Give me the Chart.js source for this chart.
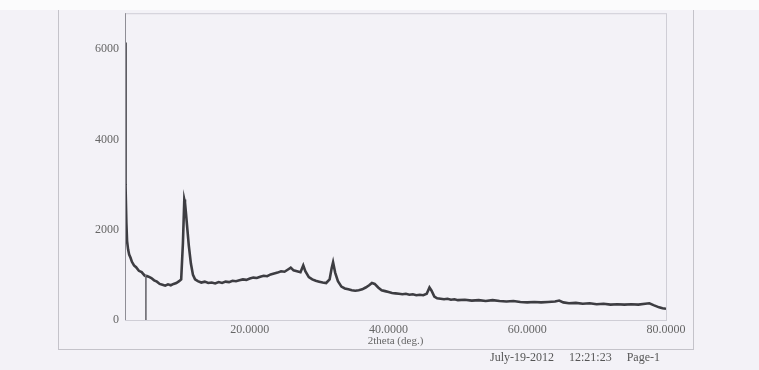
<!DOCTYPE html>
<html>
<head>
<meta charset="utf-8">
<script src="https://cdn.jsdelivr.net/npm/chart.js@4.4.1/dist/chart.umd.min.js"></script>
<style>
  html, body { margin: 0; padding: 0; background: #f3f2f7; }
  #wrap { position: relative; width: 759px; height: 370px; overflow: hidden; }
  #topstrip { position: absolute; left: 0; top: 0; width: 759px; height: 10px; background: #fbfbfc; }
  #frame { position: absolute; left: 58px; top: 10px; width: 634px; height: 339px; border: 1px solid #c4c3ca; border-top: none; }
  #footer { position: absolute; top: 350px; left: 490px; font: 12px "Liberation Serif", serif; color: #555; white-space: pre; }
  canvas { position: absolute; left: 0; top: 0; }
</style>
</head>
<body>
<div id="wrap">
  <div id="topstrip"></div>
  <div id="frame"></div>
  <canvas id="xrdChart" width="759" height="370"></canvas>
  <div id="footer">July-19-2012     12:21:23     Page-1</div>
</div>
<script>
const twoTheta = [
  2.0, 2.05, 2.1, 2.2, 2.3, 2.45, 2.6, 2.8, 3.0, 3.3, 3.6, 4.0, 4.4, 4.8, 4.95, 5.0, 5.05, 5.4, 5.8,
  6.2, 6.6, 7.0, 7.4, 7.8, 8.2, 8.6, 9.0, 9.4, 9.8, 10.1, 10.35, 10.55, 10.65, 10.8, 11.0, 11.2, 11.5,
  11.8, 12.1, 12.5, 13.0, 13.5, 14.0, 14.5, 15.0, 15.5, 16.0, 16.5, 17.0, 17.5, 18.0, 18.5, 19.0,
  19.5, 20.0, 20.5, 21.0, 21.5, 22.0, 22.5, 23.0, 23.5, 24.0, 24.5, 25.0, 25.5, 25.9, 26.3, 26.8,
  27.3, 27.7, 28.0, 28.5, 29.0, 29.5, 30.0, 30.5, 31.0, 31.5, 31.8, 32.0, 32.3, 32.7, 33.2, 33.7,
  34.2, 34.7, 35.2, 35.7, 36.2, 36.7, 37.2, 37.6, 38.0, 38.5, 39.0, 39.5, 40.0, 40.5, 41.0, 41.5,
  42.0, 42.5, 43.0, 43.5, 44.0, 44.5, 45.0, 45.5, 45.9, 46.2, 46.6, 47.0, 47.5, 48.0, 48.5, 49.0,
  49.5, 50.0, 51.0, 52.0, 53.0, 54.0, 55.0, 56.0, 57.0, 58.0, 59.0, 60.0, 61.0, 62.0, 63.0, 64.0,
  64.6, 65.2, 66.0, 67.0, 68.0, 69.0, 70.0, 71.0, 72.0, 73.0, 74.0, 75.0, 76.0, 77.0, 77.6, 78.2,
  79.0, 79.5, 80.0
];
const intensity = [
  6150, 4200, 3000, 2150, 1750, 1560, 1450, 1380, 1290, 1210, 1170, 1090, 1060, 990, 1010, 0, 980, 960, 930,
  880, 850, 800, 780, 760, 790, 770, 800, 820, 860, 900, 1700, 2670, 2600, 2350, 2000, 1650, 1250,
  1000, 900, 860, 830, 850, 820, 830, 810, 840, 820, 850, 840, 870, 860, 880, 900,
  890, 920, 940, 930, 960, 980, 970, 1010, 1030, 1050, 1080, 1070, 1120, 1160, 1100, 1080,
  1060, 1210, 1080, 950, 900, 870, 850, 830, 820, 900, 1150, 1280, 1050, 860, 740, 700,
  680, 660, 650, 660, 680, 720, 770, 820, 800, 720, 660, 640, 620, 600, 590, 580,
  570, 580, 560, 570, 550, 560, 550, 580, 720, 650, 520, 480, 470, 460, 470, 450,
  460, 440, 450, 430, 440, 420, 440, 420, 410, 420, 400, 390, 400, 390, 400, 410,
  430, 390, 370, 380, 360, 370, 350, 360, 340, 350, 340, 350, 340, 360, 370, 330,
  280, 260, 250
];
const xTickValues = [20, 40, 60, 80];
const yTickValues = [0, 2000, 4000, 6000];

const serif = '"Liberation Serif", "DejaVu Serif", serif';

// outline of the plot box
const boxPlugin = {
  id: 'plotBox',
  afterDraw(chart) {
    const a = chart.chartArea;
    const ctx = chart.ctx;
    ctx.save();
    ctx.strokeStyle = '#cfced6';
    ctx.lineWidth = 1;
    ctx.strokeRect(a.left + 0.5, a.top + 0.5, a.right - a.left, a.bottom - a.top);
    ctx.strokeStyle = '#8f8e96';
    ctx.beginPath();
    ctx.moveTo(a.left + 0.5, a.top);
    ctx.lineTo(a.left + 0.5, a.bottom);
    ctx.stroke();
    ctx.restore();
  }
};

// the detector dropout segments are drawn thin and grey like on the print
const isDrop = c => c.p0.parsed.y === 0 || c.p1.parsed.y === 0;

const ctx = document.getElementById('xrdChart').getContext('2d');
const xrdChart = new Chart(ctx, {
  type: 'line',
  data: {
    datasets: [{
      data: twoTheta.map((t, i) => ({ x: t, y: intensity[i] })),
      borderColor: '#3d3d42',
      borderWidth: 2.6,
      pointRadius: 0,
      tension: 0,
      fill: false,
      segment: {
        borderWidth: c => isDrop(c) ? 1 : undefined,
        borderColor: c => isDrop(c) ? '#77767c' : undefined
      }
    }]
  },
  options: {
    responsive: false,
    animation: false,
    layout: { padding: { left: 58, right: 93, top: 10, bottom: 20 } },
    plugins: { legend: { display: false }, tooltip: { enabled: false } },
    scales: {
      x: {
        type: 'linear',
        min: 2,
        max: 80,
        afterBuildTicks: s => { s.ticks = xTickValues.map(v => ({ value: v })); },
        afterFit: s => { s.height = 30; },
        grid: { display: false, drawTicks: false },
        border: { display: false },
        ticks: {
          padding: 3,
          color: '#666',
          font: { family: serif, size: 12 },
          callback: v => v.toFixed(4)
        },
        title: {
          display: true,
          text: '2theta (deg.)',
          color: '#666',
          font: { family: serif, size: 11 },
          padding: { top: 0, bottom: 2 }
        }
      },
      y: {
        min: 0,
        max: 6800,
        afterBuildTicks: s => { s.ticks = yTickValues.map(v => ({ value: v })); },
        afterFit: s => { s.width = 67; },
        grid: { display: false, drawTicks: false },
        border: { display: false },
        ticks: {
          padding: 6,
          color: '#666',
          font: { family: serif, size: 12 },
          callback: v => String(v)
        }
      }
    }
  },
  plugins: [boxPlugin]
});
</script>
</body>
</html>
